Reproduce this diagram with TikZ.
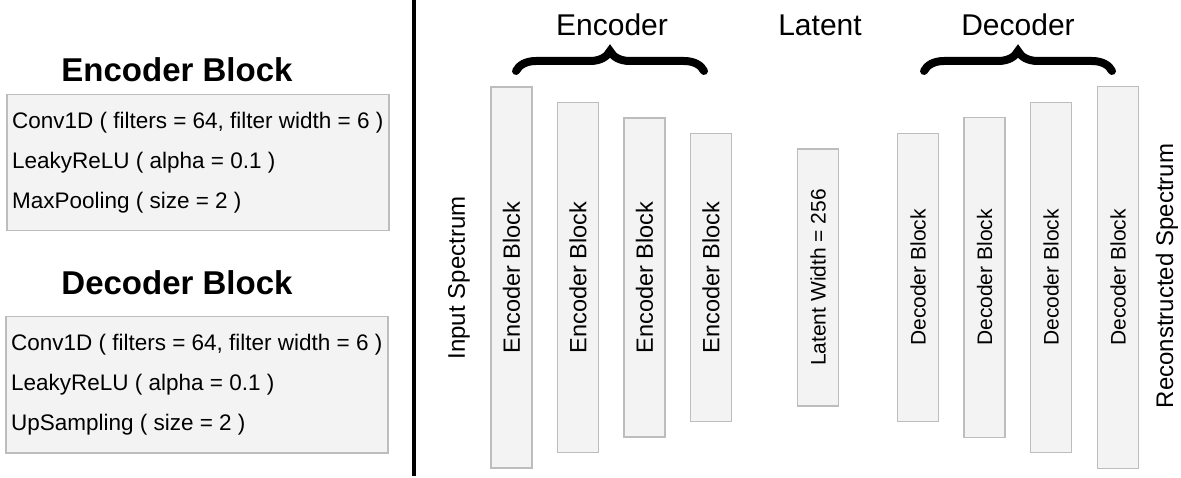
\documentclass[tikz,border=0pt]{standalone}
\usepackage{fontspec}
\setmainfont{Liberation Sans}
\usepackage{xcolor}
\usetikzlibrary{positioning, decorations.pathreplacing}

\definecolor{boxfill}{HTML}{F3F3F3}
\definecolor{boxline}{HTML}{BDBDBD}

\tikzset{
  layerbox/.style={draw=boxline, fill=boxfill, line width=1.5pt, minimum width=41pt,
    inner sep=0pt, outer sep=0pt, font=\fontsize{22}{26}\selectfont},
  sidelabel/.style={inner sep=0pt, font=\fontsize{24}{28}\selectfont},
  toplabel/.style={inner sep=0pt, anchor=base, font=\fontsize{30}{34}\selectfont},
  paneltitle/.style={inner sep=0pt, anchor=base, font=\fontsize{33}{38}\selectfont\bfseries},
  panelbox/.style={draw=boxline, fill=boxfill, line width=1.5pt, anchor=north west,
    minimum width=382pt, minimum height=136pt, align=left,
    font=\fontsize{22.5}{40}\selectfont},
  curly/.style={decorate, decoration={brace, amplitude=20pt}, line width=8pt, line cap=round}
}

\begin{document}
\begin{tikzpicture}[x=1pt, y=-1pt]
\useasboundingbox (0,0) rectangle (1181,478);

% left panel: what is inside a block
\node (enctitle) [paneltitle] at (177,82) {Encoder Block};
\node (encbox) [panelbox] at (6,94) {
    Conv1D ( filters = 64, filter width = 6 )\\
    LeakyReLU ( alpha = 0.1 )\\
    MaxPooling ( size = 2 )
};
\node (dectitle) [paneltitle] at (177,295) {Decoder Block};
\node (decbox) [panelbox] at (5,316) {
    Conv1D ( filters = 64, filter width = 6 )\\
    LeakyReLU ( alpha = 0.1 )\\
    UpSampling ( size = 2 )
};

\coordinate (divtop) at (414,0);
\coordinate (divbot) at (414,476);
\draw[line width=4pt] (divtop) -- (divbot);

% right panel: the network
\node (E1) [layerbox, minimum height=381pt, font=\fontsize{23.5}{28}\selectfont] at (511.5,277.5) {\rotatebox{90}{Encoder Block}};
\node (E2) [layerbox, minimum height=350pt, font=\fontsize{23.5}{28}\selectfont, right=25.5pt of E1] {\rotatebox{90}{Encoder Block}};
\node (E3) [layerbox, minimum height=319pt, font=\fontsize{23.5}{28}\selectfont, right=25.5pt of E2] {\rotatebox{90}{Encoder Block}};
\node (E4) [layerbox, minimum height=288pt, font=\fontsize{23.5}{28}\selectfont, right=25.5pt of E3] {\rotatebox{90}{Encoder Block}};
\node (lat) [layerbox, minimum height=257pt, font=\fontsize{21}{25}\selectfont, right=66pt of E4] {\rotatebox{90}{Latent Width = 256}};
\node (D1) [layerbox, minimum height=288pt, font=\fontsize{21}{25}\selectfont, right=59pt of lat] {\rotatebox{90}{Decoder Block}};
\node (D2) [layerbox, minimum height=320pt, font=\fontsize{21}{25}\selectfont, right=25.5pt of D1] {\rotatebox{90}{Decoder Block}};
\node (D3) [layerbox, minimum height=350pt, font=\fontsize{21}{25}\selectfont, right=25.5pt of D2] {\rotatebox{90}{Decoder Block}};
\node (D4) [layerbox, minimum height=382pt, font=\fontsize{21}{25}\selectfont, right=26pt of D3] {\rotatebox{90}{Decoder Block}};

\node (inspec) [sidelabel] at (459,278) {\rotatebox{90}{Input Spectrum}};
\node (recspec) [sidelabel] at (1167,276) {\rotatebox{90}{Reconstructed Spectrum}};

\node (enclab) [toplabel] at (612,36) {Encoder};
\node (latlab) [toplabel] at (820,36) {Latent};
\node (declab) [toplabel] at (1018,36) {Decoder};

\coordinate (encL) at (516,71);
\coordinate (encR) at (704,71);
\coordinate (decL) at (924,71);
\coordinate (decR) at (1112,71);
\draw[curly] (encL) -- (encR);
\draw[curly] (decL) -- (decR);
\end{tikzpicture}
\end{document}
